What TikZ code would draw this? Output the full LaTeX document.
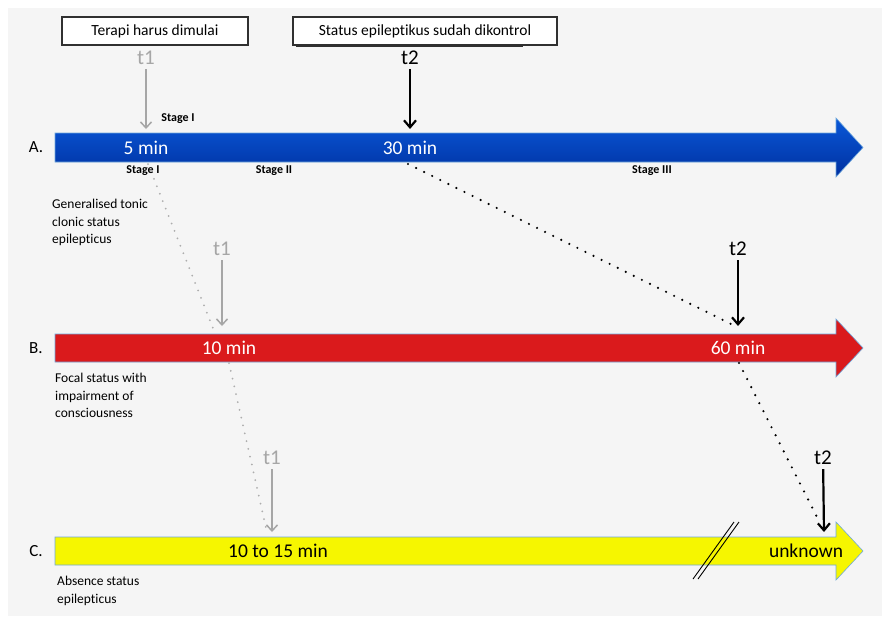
\documentclass[tikz,border=0pt]{standalone}
\usepackage{fontspec}
\setmainfont{Carlito}[Ligatures=NoCommon]
\usetikzlibrary{arrows.meta}
\definecolor{pagegray}{HTML}{F5F5F5}
\definecolor{bluetop}{HTML}{0A58D8}
\definecolor{bluebot}{HTML}{0030A0}
\definecolor{barred}{HTML}{DA1A1C}
\definecolor{baryellow}{HTML}{F6F600}
\definecolor{barline}{HTML}{6FA8DC}
\definecolor{tgray}{HTML}{A6A6A6}
\definecolor{dotgray}{HTML}{ADADAD}
\definecolor{boxline}{HTML}{303030}
\tikzset{
  bar/.style={draw=barline, line width=0.6pt},
  topbox/.style={draw=boxline, line width=1.1pt, fill=white, minimum width=#1,
    minimum height=28pt, inner sep=0pt, font=\fontsize{15.5}{18}\selectfont},
  tlabel/.style={inner sep=0pt, font=\fontsize{21}{21}\selectfont},
  barlabel/.style={inner sep=0pt, font=\fontsize{19.5}{20}\selectfont},
  stagelabel/.style={inner sep=0pt, font=\fontsize{12}{14}\selectfont\bfseries},
  rowlabel/.style={inner sep=0pt, font=\fontsize{17}{18}\selectfont},
  desc/.style={inner sep=0pt, anchor=north west, align=left,
    font=\fontsize{13.5}{17.5}\selectfont},
  tgrayptr/.style={draw=tgray, line width=1.5pt,
    -{Straight Barb[length=6pt,width=11pt,line width=1.5pt]}, shorten <=4pt},
  tblackptr/.style={draw=black, line width=2.2pt,
    -{Straight Barb[length=7pt,width=12pt,line width=2.2pt]}, shorten <=4pt},
  graydots/.style={draw=dotgray, line width=2pt, line cap=round,
    dash pattern=on 0pt off 8pt},
  blackdots/.style={draw=black, line width=2.4pt, line cap=round,
    dash pattern=on 0pt off 9pt},
}
\begin{document}
\begin{tikzpicture}[x=1pt,y=-1pt]
% page
\fill[white] (0,0) rectangle (882,616);
\fill[pagegray] (8,8) rectangle (882,616);
\useasboundingbox (0,0) rectangle (882,616);

% header boxes
\node[topbox=186pt] (boxstart) at (155,31) {Terapi harus dimulai};
\draw[boxline, line width=1.4pt] (296,46) -- (523,46);
\node[topbox=264pt] (boxctrl) at (425,31) {Status epileptikus sudah dikontrol};

% timeline A (blue)
\path[bar, top color=bluetop, bottom color=bluebot]
  (55,133) -- (836,133) -- (836,118) -- (863,147.5) -- (836,177) -- (836,162) -- (55,162) -- cycle;
% timeline B (red)
\path[bar, fill=barred]
  (55,334) -- (836,334) -- (836,319) -- (863,348) -- (836,377) -- (836,362) -- (55,362) -- cycle;
% timeline C (yellow)
\path[bar, fill=baryellow]
  (55,537) -- (836,537) -- (836,522) -- (863,551) -- (836,580) -- (836,565) -- (55,565) -- cycle;
% break mark on C
\draw[black, line width=0.9pt] (693,579) -- (734,522);
\draw[black, line width=0.9pt] (698,579) -- (739,522);

% row letters
\node[rowlabel] (rowA) at (36,147) {A.};
\node[rowlabel] (rowB) at (36,348) {B.};
\node[rowlabel] (rowC) at (36,551) {C.};

% times on the bars
\node[barlabel, white] (A5) at (146,147.5) {5 min};
\node[barlabel, white] (A30) at (410,147.5) {30 min};
\node[barlabel, white] (B10) at (229,348) {10 min};
\node[barlabel, white] (B60) at (738,348) {60 min};
\node[barlabel, black] (C10) at (278,551) {10 to 15 min};
\node[barlabel, black] (Cunk) at (806,551) {unknown};

% stage labels
\node[stagelabel] (stIa) at (178,119) {Stage I};
\node[stagelabel] (stIb) at (143,171) {Stage I};
\node[stagelabel] (stII) at (274,171) {Stage II};
\node[stagelabel] (stIII) at (652,171) {Stage III};

% descriptions
\node[desc] (descA) at (52,199) {Generalised tonic\\clonic status\\epilepticus};
\node[desc] (descB) at (55,373) {Focal status with\\impairment of\\consciousness};
\node[desc] (descC) at (57,576) {Absence status\\epilepticus};

% anchor points on the bars
\coordinate (A5top) at (146,129);
\coordinate (A30top) at (410,129);
\coordinate (B10top) at (222,326);
\coordinate (B60top) at (738,326);
\coordinate (C10top) at (272,532);
\coordinate (Cunktop) at (824,532);
\coordinate (A5bot) at (148,164);
\coordinate (B10in) at (215,333);
\coordinate (B10bot) at (229,363);
\coordinate (C10in) at (266,528);
\coordinate (A30bot) at (408,164);
\coordinate (B60in) at (735,326);
\coordinate (B60bot) at (739,363);
\coordinate (Cunkin) at (819,521);

% t1 / t2 markers
\node[tlabel, tgray] (t1A) at (146,58) {t1};
\node[tlabel, black] (t2A) at (410,58) {t2};
\node[tlabel, tgray] (t1B) at (222,249) {t1};
\node[tlabel, black] (t2B) at (738,249) {t2};
\node[tlabel, tgray] (t1C) at (272,458) {t1};
\node[tlabel, black] (t2C) at (823,458) {t2};

\draw[tgrayptr] (t1A) -- (A5top);
\draw[tblackptr] (t2A) -- (A30top);
\draw[tgrayptr] (t1B) -- (B10top);
\draw[tblackptr] (t2B) -- (B60top);
\draw[tgrayptr] (t1C) -- (C10top);
\draw[tblackptr] (t2C) -- (Cunktop);

% dotted links between timelines
\draw[graydots] (A5bot) -- (B10in);
\draw[graydots] (B10bot) -- (C10in);
\draw[blackdots] (A30bot) -- (B60in);
\draw[blackdots] (B60bot) -- (Cunkin);
\end{tikzpicture}
\end{document}
